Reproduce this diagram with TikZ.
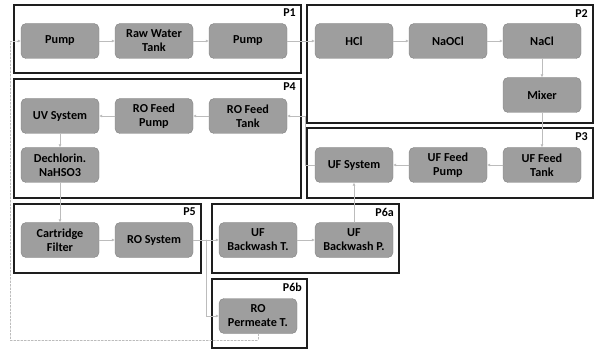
\documentclass[tikz,border=0pt]{standalone}
\usepackage{fontspec}
\setmainfont{Carlito}
\usepackage{tikz}
\usetikzlibrary{arrows.meta}
\definecolor{boxGray}{RGB}{158,158,158}
\definecolor{boxEdge}{RGB}{132,132,132}
\definecolor{flowGray}{RGB}{188,188,188}
\definecolor{frameBlack}{RGB}{30,30,30}

\begin{document}
\begin{tikzpicture}[x=1pt, y=-1pt, line cap=round,
    unit/.style={draw=boxEdge, fill=boxGray, rounded corners=5pt, minimum width=78pt, minimum height=35pt,
        align=center, inner sep=1pt, font=\fontsize{12.2}{14}\selectfont\bfseries},
    flow/.style={flowGray, line width=0.9pt, -{Latex[length=3pt, width=3pt]}},
    frame/.style={draw=frameBlack, line width=1.5pt},
    tag/.style={anchor=north east, inner sep=1pt, font=\fontsize{12}{13}\selectfont\bfseries}]
    \useasboundingbox (0,0) rectangle (595,350);
    % process frames
    \draw[frame] (14,5) rectangle (301,73);
    \draw[frame] (307,5) rectangle (593,123);
    \draw[frame] (14,79) rectangle (301,198);
    \draw[frame] (307,128) rectangle (593,198);
    \draw[frame] (14,204) rectangle (201,273);
    \draw[frame] (212,204) rectangle (399,273);
    \draw[frame] (212,279) rectangle (307,348);
    \node[tag] (p1) at (297,8) {P1};
    \node[tag] (p2) at (589,8) {P2};
    \node[tag] (p4) at (297,82) {P4};
    \node[tag] (p3) at (589,131) {P3};
    \node[tag] (p5) at (197,207) {P5};
    \node[tag] (p6a) at (395,207) {P6a};
    \node[tag] (p6b) at (303,282) {P6b};
    % units
    \node[unit] (pumpA) at (60,41) {Pump};
    \node[unit] (rawtank) at (154,41) {Raw Water\\Tank};
    \node[unit] (pumpB) at (248,41) {Pump};
    \node[unit] (hcl) at (354,41) {HCl};
    \node[unit] (naocl) at (448,41) {NaOCl};
    \node[unit] (nacl) at (542,41) {NaCl};
    \node[unit] (mixer) at (542,95) {Mixer};
    \node[unit] (uftank) at (542,165) {UF Feed\\Tank};
    \node[unit] (ufpump) at (448,165) {UF Feed\\Pump};
    \node[unit] (ufsys) at (354,165) {UF System};
    \node[unit] (rotank) at (248,116) {RO Feed\\Tank};
    \node[unit] (ropump) at (154,116) {RO Feed\\Pump};
    \node[unit] (uvsys) at (60,116) {UV System};
    \node[unit] (dechlor) at (60,165) {Dechlorin.\\NaHSO3};
    \node[unit] (cartridge) at (60,240) {Cartridge\\Filter};
    \node[unit] (rosys) at (154,240) {RO System};
    \node[unit] (ufbwt) at (258,240) {UF\\Backwash T.};
    \node[unit] (ufbwp) at (354,240) {UF\\Backwash P.};
    \node[unit] (ropermeate) at (258,316) {RO\\Permeate T.};
    % bends
    \coordinate (ufbend) at (305,165);
    \coordinate (robranch) at (206,240);
    \coordinate (loopcorner) at (10,340);
    % flows
    \draw[flow] (pumpA) -- (rawtank);
    \draw[flow] (rawtank) -- (pumpB);
    \draw[flow] (pumpB) -- (hcl);
    \draw[flow] (hcl) -- (naocl);
    \draw[flow] (naocl) -- (nacl);
    \draw[flow] (nacl) -- (mixer);
    \draw[flow] (mixer) -- (uftank);
    \draw[flow] (uftank) -- (ufpump);
    \draw[flow] (ufpump) -- (ufsys);
    \draw[flow] (ufsys.west) -- (ufbend) |- (rotank.east);
    \draw[flow] (rotank) -- (ropump);
    \draw[flow] (ropump) -- (uvsys);
    \draw[flow] (uvsys) -- (dechlor);
    \draw[flow] (dechlor) -- (cartridge);
    \draw[flow] (cartridge) -- (rosys);
    \draw[flow] (rosys) -- (ufbwt);
    \draw[flow] (robranch) |- (ropermeate.west);
    \draw[flow] (ufbwt) -- (ufbwp);
    \draw[flow] (ufbwp) -- (ufsys);
    \draw[flow, line width=0.6pt, dash pattern=on 2pt off 1.5pt] (ropermeate.south) |- (loopcorner) |- (pumpA.west);
\end{tikzpicture}
\end{document}
